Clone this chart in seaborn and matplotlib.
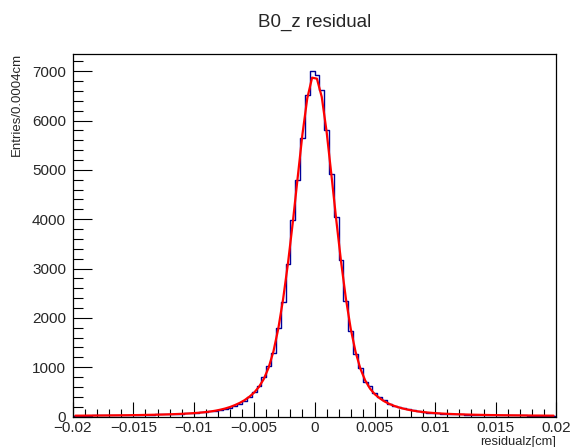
import numpy as np
import pandas as pd
import matplotlib
matplotlib.use("Agg")
import matplotlib.pyplot as plt
import seaborn as sns
from matplotlib.ticker import MultipleLocator

# ---- data ----
x_min, x_max, n_bins = -0.02, 0.02, 100

# counts of bins left of 0, from the bin next to 0 outwards
left_counts = [7000, 6513, 5655, 4803, 3991, 3098, 2319, 1792, 1292, 1021,
               798, 615, 495, 390, 314, 253, 220, 180, 152, 132,
               118, 105, 91, 85, 77, 68, 63, 58, 54, 50,
               47, 44, 41, 39, 37, 35, 33, 31, 29, 28,
               27, 25, 24, 23, 22, 21, 20, 19, 18, 18]
# counts of bins right of 0, from the bin next to 0 outwards
right_counts = [6933, 6615, 5817, 4924, 4038, 3165, 2340, 1725, 1258, 988,
                700, 624, 470, 390, 335, 250, 213, 187, 166, 146,
                126, 105, 91, 78, 68, 63, 58, 53, 49, 46,
                42, 39, 37, 35, 33, 31, 29, 28, 26, 25,
                24, 23, 22, 21, 20, 19, 19, 18, 17, 17]

left_fit = [6870, 6450, 5720, 4830, 3930, 3100, 2380, 1780, 1320, 990,
            760, 600, 485, 400, 330, 275, 230, 192, 162, 138,
            118, 102, 90, 80, 72, 65, 59, 54, 50, 46,
            43, 40, 37, 35, 33, 31, 29, 28, 26, 25,
            24, 23, 22, 21, 20, 19, 19, 18, 17, 17]
right_fit = [6850, 6480, 5780, 4900, 3990, 3140, 2390, 1780, 1310, 970,
             730, 565, 450, 370, 305, 255, 215, 183, 157, 135,
             117, 102, 90, 80, 72, 65, 59, 54, 50, 46,
             43, 40, 37, 35, 33, 31, 29, 28, 26, 25,
             24, 23, 22, 21, 20, 19, 19, 18, 17, 17]

x_tick_values = [-0.02, -0.015, -0.01, -0.005, 0, 0.005, 0.01, 0.015, 0.02]
x_tick_labels = ["\u22120.02", "\u22120.015", "\u22120.01", "\u22120.005", "0",
                 "0.005", "0.01", "0.015", "0.02"]
y_tick_values = [0, 1000, 2000, 3000, 4000, 5000, 6000, 7000]

title = "B0_z residual"
x_label = "residualz[cm]"
y_label = "Entries/0.0004cm"

# ---- build table ----
bin_width = (x_max - x_min) / n_bins
centers = x_min + bin_width * (np.arange(n_bins) + 0.5)
counts = list(reversed(left_counts)) + right_counts
fit = list(reversed(left_fit)) + right_fit
df = pd.DataFrame({"x": centers, "count": counts, "fit": fit})

# ---- style ----
sns.set_style("ticks")
plt.rcParams["font.family"] = ["Liberation Sans", "DejaVu Sans"]

fig = plt.figure(figsize=(5.71, 4.47), dpi=100)
ax = fig.add_axes([73 / 571, 1 - 416.5 / 447, (556 - 73) / 571, (416.5 - 54) / 447])

sns.histplot(data=df, x="x", weights="count", binwidth=bin_width,
             binrange=(x_min, x_max), element="step",
             fill=False, color="#000099", linewidth=1.0, ax=ax)
sns.lineplot(data=df, x="x", y="fit", color="#ff0000", linewidth=1.6, ax=ax)

ax.set_xlim(x_min, x_max)
ax.set_ylim(0, 7350)
ax.set_xticks(x_tick_values)
ax.set_xticklabels(x_tick_labels)
ax.set_yticks(y_tick_values)
ax.xaxis.set_minor_locator(MultipleLocator(0.001))
ax.yaxis.set_minor_locator(MultipleLocator(200))
ax.tick_params(axis="both", which="both", direction="in", top=False, right=False,
               color="black", width=0.8)
ax.tick_params(axis="x", which="major", length=11, labelsize=11, pad=3)
ax.tick_params(axis="x", which="minor", length=6)
ax.tick_params(axis="y", which="major", length=14, labelsize=11, pad=5)
ax.tick_params(axis="y", which="minor", length=7)
for s in ax.spines.values():
    s.set_visible(True)
    s.set_color("black")
    s.set_linewidth(0.9)
ax.set_xlabel("")
ax.set_ylabel("")

fig.text(315 / 571, 1 - 22 / 447, title, ha="center", va="center", fontsize=13.5)
fig.text(556 / 571, 1 - 441.5 / 447, x_label, ha="right", va="center", fontsize=9.3)
fig.text(17 / 571, 1 - 53 / 447, y_label, ha="center", va="top", rotation=90,
         fontsize=9.5)

fig.savefig("out.png", dpi=100, facecolor="white")
